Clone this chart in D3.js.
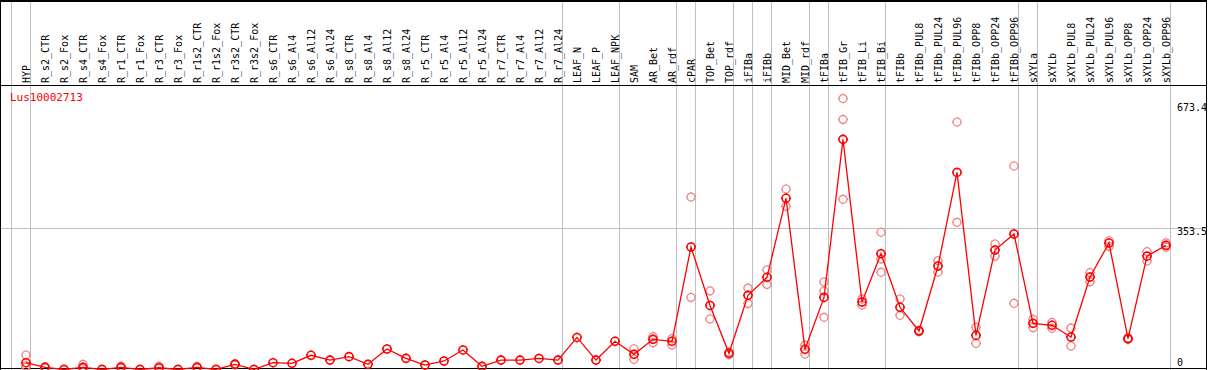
<!DOCTYPE html>
<html lang="en">

<head>
    <meta charset="UTF-8">
    <title>Lus10002713</title>
    <script src="https://cdn.jsdelivr.net/npm/d3@7"></script>
    <style>
        body { margin: 0; background: #fff; }
        text { font-family: 'DejaVu Sans Mono', monospace; }
    </style>
</head>

<body>
    <svg width="1209" height="370" id="mainsvg"></svg>
    <script>
        const geneName = 'Lus10002713'
        const samples = ['HYP', 'R_s2_CTR', 'R_s2_Fox', 'R_s4_CTR', 'R_s4_Fox', 'R_r1_CTR', 'R_r1_Fox', 'R_r3_CTR', 'R_r3_Fox',
            'R_r1s2_CTR', 'R_r1s2_Fox', 'R_r3s2_CTR', 'R_r3s2_Fox', 'R_s6_CTR', 'R_s6_Al4', 'R_s6_Al12', 'R_s6_Al24',
            'R_s8_CTR', 'R_s8_Al4', 'R_s8_Al12', 'R_s8_Al24', 'R_r5_CTR', 'R_r5_Al4', 'R_r5_Al12', 'R_r5_Al24',
            'R_r7_CTR', 'R_r7_Al4', 'R_r7_Al12', 'R_r7_Al24', 'LEAF_N', 'LEAF_P', 'LEAF_NPK', 'SAM', 'AR_Bet', 'AR_rdf',
            'cPAR', 'TOP_Bet', 'TOP_rdf', 'iFIBa', 'iFIBb', 'MID_Bet', 'MID_rdf', 'tFIBa', 'tFIB_Gr', 'tFIB_Li', 'tFIB_Bi',
            'tFIBb', 'tFIBb_PUL8', 'tFIBb_PUL24', 'tFIBb_PUL96', 'tFIBb_OPP8', 'tFIBb_OPP24', 'tFIBb_OPP96',
            'sXYLa', 'sXYLb', 'sXYLb_PUL8', 'sXYLb_PUL24', 'sXYLb_PUL96', 'sXYLb_OPP8', 'sXYLb_OPP24', 'sXYLb_OPP96']
        // mean expression per sample
        const means = [20.5, 9, 4, 9, 4, 9, 4, 8, 4, 9, 4, 16.5, 4, 20.5, 19, 38.8, 27,
            35.5, 16.5, 54.4, 31.3, 14.8, 24.7, 52, 11.5, 27, 27, 31, 27, 83, 27, 73.4, 41.2, 78.3, 73.4,
            306.6, 162, 43.7, 187, 231.6, 427, 53.6, 182, 572.7, 170.6, 290,
            157.5, 98.9, 259.6, 491, 88, 299, 338.7,
            117.8, 113, 84, 232.4, 316.4, 80, 284, 310.6]
        // visible replicates per sample
        const reps = [[39.5, 13, 9], [10, 8], [], [16.5, 6], [], [12, 8], [], [12, 7], [], [11, 8], [], [18, 15.5], [], [], [], [], [],
            [], [], [], [], [], [], [], [], [], [], [], [], [], [], [], [55, 29], [85, 70], [80, 64],
            [430, 182], [198, 128.5], [47, 40], [205, 167], [249.7, 214], [450, 407], [64, 42], [220, 198, 132.6], [673.4, 622, 424.5], [178, 163], [343, 277, 244],
            [178, 137.7], [101, 97], [272.7, 244.7], [615.6, 367.6], [108, 68.5], [314, 284], [506.8, 167.4],
            [127.7, 107], [120, 105.5], [106, 61.8], [243, 220.8], [322, 308], [82, 78], [295, 272], [317, 306]]
        // separators drawn after these samples (plus one before the first)
        const groupEnds = ['HYP', 'R_r7_Al24', 'LEAF_NPK', 'AR_rdf', 'cPAR', 'TOP_rdf', 'iFIBa', 'iFIBb', 'MID_rdf',
            'tFIBa', 'tFIB_Bi', 'tFIBb_OPP96', 'sXYLa', 'sXYLb_OPP96']
        const maxVal = 673.4
        const yTicks = [0, maxVal * 1.05 / 2, maxVal]
        const yTickLabels = ['0', '353.5', '673.4']

        const svg = d3.select('#mainsvg')
        const width = 1207
        const headerH = 85
        const step = 19

        const x = d3.scalePoint().domain(samples).range([26, 26 + step * (samples.length - 1)])
        const y = d3.scaleLinear().domain([0, maxVal * 1.05]).range([371, headerH])

        const grid = svg.append('g')
        // vertical separators
        const sepX = [x(samples[0]) - step + 4.5].concat(groupEnds.map(s => x(s) + 4.5))
        grid.selectAll('.vsep').data(sepX).join('line')
            .attr('x1', d => d).attr('x2', d => d)
            .attr('y1', 0).attr('y2', 370)
            .attr('stroke', '#c0c0c0').attr('stroke-width', 1)
        // horizontal mid line
        grid.append('line')
            .attr('x1', 0).attr('x2', width)
            .attr('y1', Math.round(y(yTicks[1])) + 0.5).attr('y2', Math.round(y(yTicks[1])) + 0.5)
            .attr('stroke', '#c0c0c0')

        // frame
        svg.append('line').attr('x1', 0).attr('x2', width).attr('y1', 1).attr('y2', 1).attr('stroke', '#000').attr('stroke-width', 2)
        svg.append('line').attr('x1', 0).attr('x2', width).attr('y1', headerH + 0.5).attr('y2', headerH + 0.5).attr('stroke', '#000')
        svg.append('line').attr('x1', 0).attr('x2', width).attr('y1', 368.5).attr('y2', 368.5).attr('stroke', '#000')
        svg.append('line').attr('x1', 0.5).attr('x2', 0.5).attr('y1', 0).attr('y2', 370).attr('stroke', '#000')
        svg.append('line').attr('x1', width - 0.5).attr('x2', width - 0.5).attr('y1', 0).attr('y2', 370).attr('stroke', '#000')

        // rotated sample labels
        svg.append('g').selectAll('text').data(samples).join('text')
            .attr('transform', d => `translate(${x(d) + 3.5}, 83) rotate(-90)`)
            .attr('font-size', 10)
            .attr('fill', '#000')
            .text(d => d)

        // title
        svg.append('text').attr('x', 10).attr('y', 101)
            .attr('font-size', 11).attr('fill', '#ff0000').text(geneName)

        // right value labels
        const labDy = [-5.3, 7.4, 12]
        svg.append('g').selectAll('text').data(yTicks).join('text')
            .attr('x', 1177)
            .attr('y', (d, i) => y(d) + labDy[i])
            .attr('font-size', 10).attr('fill', '#000')
            .text((d, i) => yTickLabels[i])

        const marker = 'M4,0A4,4 0 1,1 -4,0A4,4 0 1,1 4,0M0,-5V-4M0,4V5M-5,0H-4M4,0H5'

        // replicate points
        const repPts = []
        samples.forEach((s, i) => reps[i].forEach(v => repPts.push({ s, v })))
        svg.append('g').selectAll('path').data(repPts).join('path')
            .attr('transform', d => `translate(${x(d.s)}, ${y(d.v)})`)
            .attr('d', marker)
            .attr('fill', 'none').attr('stroke', '#f08080').attr('stroke-width', 1.2)

        // mean line
        const line = d3.line().x((d, i) => x(samples[i])).y(d => y(d))
        svg.append('path').attr('d', line(means))
            .attr('fill', 'none').attr('stroke', '#ff0000').attr('stroke-width', 1.3)

        // mean points
        svg.append('g').selectAll('path').data(means).join('path')
            .attr('transform', (d, i) => `translate(${x(samples[i])}, ${y(d)})`)
            .attr('d', marker)
            .attr('fill', 'none').attr('stroke', '#ff0000').attr('stroke-width', 1.6)
    </script>
</body>

</html>
